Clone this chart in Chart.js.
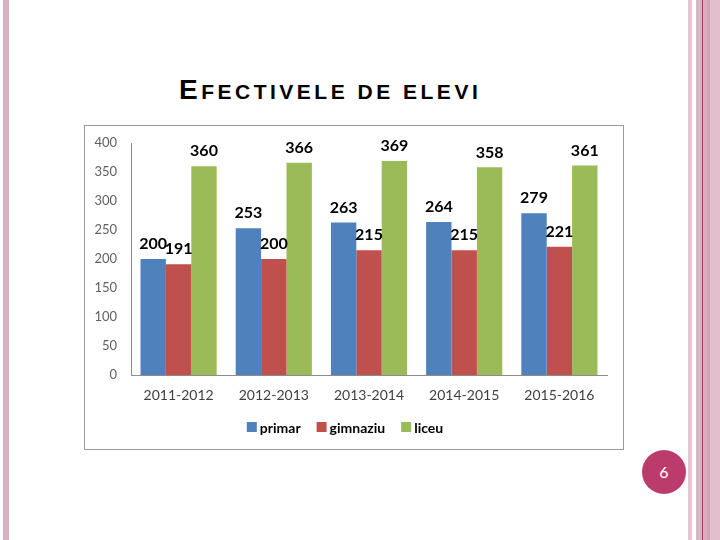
<!DOCTYPE html>
<html>
<head>
<meta charset="utf-8">
<script src="https://cdn.jsdelivr.net/npm/chart.js@4/dist/chart.umd.min.js"></script>
<style>
  html, body { margin: 0; padding: 0; background: #fff; }
  body { width: 720px; height: 540px; position: relative; overflow: hidden; }
  .strip { position: absolute; top: 0; height: 540px; }
  #title {
    position: absolute; left: 179px; top: 76px; white-space: nowrap;
    font-family: "Liberation Sans", Arial, sans-serif; font-weight: bold;
    color: #000; letter-spacing: 3.5px; line-height: 1;
  }
  #title .big { font-size: 28px; }
  #title .sm { font-size: 21px; }
  #box {
    position: absolute; left: 84px; top: 125px; width: 538px; height: 323px;
    border: 1px solid #9a9a9a; background: #fff;
  }
  #pg {
    position: absolute; left: 642px; top: 450px; width: 44px; height: 44px;
    border-radius: 50%; background: #bb3c6c; color: #fff;
    font-family: Lato, "Liberation Sans", sans-serif; font-size: 16px;
    line-height: 44px; text-align: center;
  }
</style>
</head>
<body>
<div class="strip" style="left:3px;width:6px;background:#d7b1c1;"></div>
<div class="strip" style="left:688px;width:4px;background:#e6c7d3;"></div>
<div class="strip" style="left:696px;width:6px;background:#dcb5c5;"></div>
<div class="strip" style="left:702px;width:1px;background:#9e3d62;"></div>
<div class="strip" style="left:703px;width:4px;background:#d9adbf;"></div>
<div class="strip" style="left:707px;width:3px;background:#d0a5b5;"></div>
<div class="strip" style="left:710px;width:10px;background:#e2bfcd;"></div>

<div id="title"><span class="big">E</span><span class="sm">FECTIVELE DE ELEVI</span></div>

<div id="box"><canvas id="c" width="538" height="323"></canvas></div>
<div id="pg">6</div>

<script>
const categories = ["2011-2012", "2012-2013", "2013-2014", "2014-2015", "2015-2016"];
const seriesNames = ["primar", "gimnaziu", "liceu"];
const primar = [200, 253, 263, 264, 279];
const gimnaziu = [191, 200, 215, 215, 221];
const liceu = [360, 366, 369, 358, 361];
const yTicks = [0, 50, 100, 150, 200, 250, 300, 350, 400];

const colors = ["#4f81bd", "#c0504d", "#9bbb59"];
const fontFam = "Lato, 'Open Sans', sans-serif";

const valueLabels = {
  id: "valueLabels",
  afterDatasetsDraw(chart) {
    const ctx = chart.ctx;
    ctx.save();
    ctx.font = "bold 16px " + fontFam;
    ctx.fillStyle = "#000";
    ctx.textAlign = "center";
    ctx.textBaseline = "middle";
    chart.data.datasets.forEach((ds, i) => {
      const meta = chart.getDatasetMeta(i);
      meta.data.forEach((bar, j) => {
        ctx.fillText(String(ds.data[j]), bar.x, bar.y - 15);
      });
    });
    ctx.restore();
  }
};

const customLegend = {
  id: "customLegend",
  afterDraw(chart) {
    const ctx = chart.ctx;
    ctx.save();
    ctx.font = "bold 14px " + fontFam;
    ctx.textBaseline = "middle";
    const box = 10, gap = 3, space = 16;
    const items = chart.data.datasets.map(ds => ({
      label: ds.label, color: ds.backgroundColor, w: ctx.measureText(ds.label).width
    }));
    const total = items.reduce((s, it) => s + box + gap + it.w, 0) + space * (items.length - 1);
    let x = 260 - total / 2;
    const y = 301;
    items.forEach(it => {
      ctx.fillStyle = it.color;
      ctx.fillRect(x, y - box / 2, box, box);
      x += box + gap;
      ctx.fillStyle = "#000";
      ctx.textAlign = "left";
      ctx.fillText(it.label, x, y + 1);
      x += it.w + space;
    });
    ctx.restore();
  }
};

new Chart(document.getElementById("c"), {
  type: "bar",
  data: {
    labels: categories,
    datasets: [
      { label: seriesNames[0], data: primar, backgroundColor: colors[0] },
      { label: seriesNames[1], data: gimnaziu, backgroundColor: colors[1] },
      { label: seriesNames[2], data: liceu, backgroundColor: colors[2] }
    ]
  },
  options: {
    responsive: false,
    devicePixelRatio: 1,
    animation: false,
    layout: { padding: { top: 17, right: 16, left: 0, bottom: 0 } },
    datasets: { bar: { barPercentage: 1.0, categoryPercentage: 0.8 } },
    plugins: { legend: { display: false }, tooltip: { enabled: false } },
    scales: {
      x: {
        grid: { display: false, drawTicks: false },
        border: { display: true, color: "#8c8c8c", width: 1 },
        ticks: { color: "#404040", font: { family: fontFam, size: 14 }, padding: 12, maxRotation: 0 },
        afterFit(s) { s.height = 74; }
      },
      y: {
        min: 0, max: 400,
        afterBuildTicks(s) { s.ticks = yTicks.map(v => ({ value: v })); },
        grid: { display: false, drawTicks: false },
        border: { display: true, color: "#8c8c8c", width: 1 },
        ticks: { color: "#606060", font: { family: fontFam, size: 13, lineHeight: 1 }, padding: 14 },
        afterFit(s) { s.width = 46; s.paddingTop = 0; }
      }
    }
  },
  plugins: [valueLabels, customLegend]
});
</script>
</body>
</html>
